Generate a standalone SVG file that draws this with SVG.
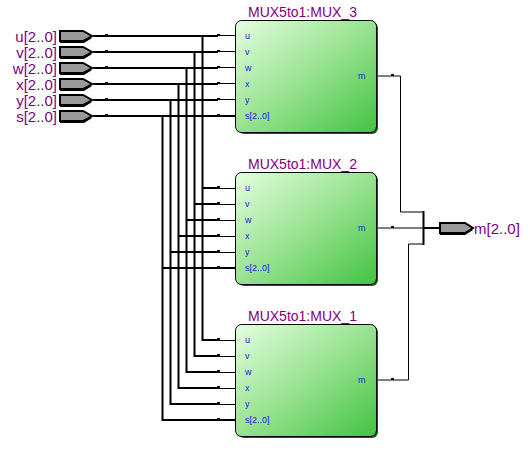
<svg xmlns="http://www.w3.org/2000/svg" width="530" height="453" viewBox="0 0 530 453">
<style>
.bus{fill:none;stroke:#000;stroke-width:2}
.thin{fill:none;stroke:#000;stroke-width:1}
.dot{fill:#000}
.pin{fill:#9a9a9a;stroke:#000;stroke-width:2}
.pinsh{fill:#000}
.pl{font:15px "Liberation Sans",Arial,sans-serif;fill:#800080}
.title{font:14px "Liberation Sans",Arial,sans-serif;fill:#800080}
.port{font:9px "Liberation Sans",Arial,sans-serif;fill:#2020e0}
.box{fill:url(#g);stroke:#000;stroke-width:1}
.shadow{fill:#1f5a2a}
</style>
<defs>
<linearGradient id="g" x1="0" y1="0" x2="1" y2="1">
<stop offset="0" stop-color="#e4fde0"/><stop offset="0.5" stop-color="#98e290"/><stop offset="1" stop-color="#42c242"/>
</linearGradient>
</defs>
<rect width="530" height="453" fill="#fff"/>
<g id="connectors">
<path class="bus" d="M93 36H218M93 52H218M93 68H218M93 84H218M93 100H218M93 116H236"/>
<path class="thin" d="M218 35.500H236M218 51.500H236M218 67.500H236M218 83.500H236M218 99.500H236"/>
<path class="bus" d="M202.500 36V340H218M194.500 52V356H218M186.500 68V372H218M178.500 84V388H218M170.500 100V404H218M162.500 116V420H236"/>
<path class="bus" d="M202 188H218M194 204H218M186 220H218M178 236H218M170 252H218M162 268H236"/>
<path class="thin" d="M218 188.500H236M218 204.500H236M218 220.500H236M218 236.500H236M218 252.500H236M218 340.500H236M218 356.500H236M218 372.500H236M218 388.500H236M218 404.500H236"/>
<path class="thin" d="M377 76H400.500V212H423M377 228H423M377 380H408.500V244H423"/>
<path class="bus" d="M423.500 211V245M423 228H439"/>
<g class="dot">
<rect x="105" y="34" width="3" height="2"/><rect x="105" y="50" width="3" height="2"/><rect x="105" y="66" width="3" height="2"/><rect x="105" y="82" width="3" height="2"/><rect x="105" y="98" width="3" height="2"/><rect x="105" y="114" width="3" height="2"/>
<rect x="217" y="34" width="3" height="2"/><rect x="217" y="50" width="3" height="2"/><rect x="217" y="66" width="3" height="2"/><rect x="217" y="82" width="3" height="2"/><rect x="217" y="98" width="3" height="2"/><rect x="217" y="114" width="3" height="2"/>
<rect x="217" y="186" width="3" height="2"/><rect x="217" y="202" width="3" height="2"/><rect x="217" y="218" width="3" height="2"/><rect x="217" y="234" width="3" height="2"/><rect x="217" y="250" width="3" height="2"/><rect x="217" y="266" width="3" height="2"/>
<rect x="217" y="338" width="3" height="2"/><rect x="217" y="354" width="3" height="2"/><rect x="217" y="370" width="3" height="2"/><rect x="217" y="386" width="3" height="2"/><rect x="217" y="402" width="3" height="2"/><rect x="217" y="418" width="3" height="2"/>
<rect x="391" y="74" width="3" height="2"/><rect x="391" y="226" width="3" height="2"/><rect x="391" y="378" width="3" height="2"/>
</g>
</g>
<g id="in-u"><path class="pinsh" d="M60 34H84L92 38L84 43H60Z"/><path class="pin" d="M60 31H83L92 36L83 41H60Z"/><text class="pl" x="57" y="41.500" text-anchor="end">u[2..0]</text></g>
<g id="in-v"><path class="pinsh" d="M60 50H84L92 54L84 59H60Z"/><path class="pin" d="M60 47H83L92 52L83 57H60Z"/><text class="pl" x="57" y="57.500" text-anchor="end">v[2..0]</text></g>
<g id="in-w"><path class="pinsh" d="M60 66H84L92 70L84 75H60Z"/><path class="pin" d="M60 63H83L92 68L83 73H60Z"/><text class="pl" x="57" y="73.500" text-anchor="end">w[2..0]</text></g>
<g id="in-x"><path class="pinsh" d="M60 82H84L92 86L84 91H60Z"/><path class="pin" d="M60 79H83L92 84L83 89H60Z"/><text class="pl" x="57" y="89.500" text-anchor="end">x[2..0]</text></g>
<g id="in-y"><path class="pinsh" d="M60 98H84L92 102L84 107H60Z"/><path class="pin" d="M60 95H83L92 100L83 105H60Z"/><text class="pl" x="57" y="105.500" text-anchor="end">y[2..0]</text></g>
<g id="in-s"><path class="pinsh" d="M60 114H84L92 118L84 123H60Z"/><path class="pin" d="M60 111H83L92 116L83 121H60Z"/><text class="pl" x="57" y="121.500" text-anchor="end">s[2..0]</text></g>
<g id="out-m"><path class="pinsh" d="M440 226H465L473 230L465 235H440Z"/><path class="pin" d="M440 223H465L473 228L465 233H440Z"/><text class="pl" x="474" y="233.500">m[2..0]</text></g>
<g id="MUX_3">
<rect class="shadow" x="238" y="22" width="140" height="112" rx="6"/>
<rect class="box" x="235.500" y="20.500" width="141" height="112" rx="6"/>
<text class="title" x="248" y="16.500">MUX5to1:MUX_3</text>
<text class="port" x="245" y="39">u</text><text class="port" x="245" y="55">v</text><text class="port" x="245" y="71">w</text><text class="port" x="245" y="87">x</text><text class="port" x="245" y="103">y</text><text class="port" x="245" y="119">s[2..0]</text>
<text class="port" x="358" y="79">m</text>
</g>
<g id="MUX_2">
<rect class="shadow" x="238" y="174" width="140" height="112" rx="6"/>
<rect class="box" x="235.500" y="172.500" width="141" height="112" rx="6"/>
<text class="title" x="248" y="168.500">MUX5to1:MUX_2</text>
<text class="port" x="245" y="191">u</text><text class="port" x="245" y="207">v</text><text class="port" x="245" y="223">w</text><text class="port" x="245" y="239">x</text><text class="port" x="245" y="255">y</text><text class="port" x="245" y="271">s[2..0]</text>
<text class="port" x="358" y="231">m</text>
</g>
<g id="MUX_1">
<rect class="shadow" x="238" y="326" width="140" height="112" rx="6"/>
<rect class="box" x="235.500" y="324.500" width="141" height="112" rx="6"/>
<text class="title" x="248" y="320.500">MUX5to1:MUX_1</text>
<text class="port" x="245" y="343">u</text><text class="port" x="245" y="359">v</text><text class="port" x="245" y="375">w</text><text class="port" x="245" y="391">x</text><text class="port" x="245" y="407">y</text><text class="port" x="245" y="423">s[2..0]</text>
<text class="port" x="358" y="383">m</text>
</g>
</svg>
